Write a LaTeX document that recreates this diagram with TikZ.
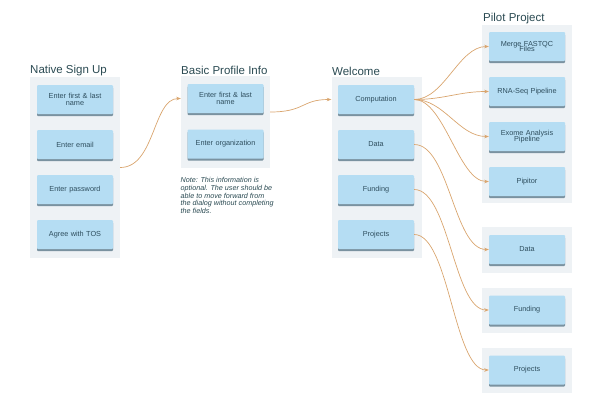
\documentclass[tikz,border=0pt]{standalone}
\usepackage{fontspec}
\setmainfont{Liberation Sans}
\usetikzlibrary{arrows.meta,calc}
\definecolor{panelbg}{HTML}{EEF2F5}
\definecolor{btnfill}{HTML}{B5DDF3}
\definecolor{btnshadow}{HTML}{7A92A0}
\definecolor{btntext}{HTML}{2E4E5E}
\definecolor{titletext}{HTML}{2A4A52}
\definecolor{conncol}{HTML}{D9A56E}
\tikzset{
  panel/.style={fill=panelbg, draw=none, minimum width=90pt, inner sep=0pt},
  btn/.style={fill=btnfill, draw=none, minimum width=76pt, minimum height=29pt,
    rounded corners=1pt, text=btntext, font=\fontsize{7.3}{7.3}\selectfont,
    align=center, text width=62pt, inner sep=0pt,
    preaction={fill=btnshadow, rounded corners=1pt, transform canvas={yshift=-2.2pt}}},
  ttl/.style={anchor=south west, inner sep=0pt, text=titletext, font=\fontsize{11.5}{11.5}\selectfont},
  conn/.style={draw=conncol, line width=0.7pt, -{Stealth[length=4.5pt,width=3.5pt]}},
}
\begin{document}
\begin{tikzpicture}[x=1pt,y=-1pt]
\useasboundingbox (0,0) rectangle (600,413);
% panels
\node[panel, minimum height=181pt] (nsP) at (75,167.5) {};
\node[panel, minimum width=89pt, minimum height=92pt] (bpP) at (225.5,122) {};
\node[panel, minimum height=181pt] (wP) at (376.5,167.5) {};
\node[panel, minimum height=178pt] (ppP) at (527,114) {};
\node[panel, minimum height=46pt] (dP) at (527,250) {};
\node[panel, minimum height=45pt] (fP) at (527,310.5) {};
\node[panel, minimum height=45pt] (prP) at (527,370.5) {};
% titles
\node[ttl] (nsT) at (30,76) {Native Sign Up};
\node[ttl] (bpT) at (181,75) {Basic Profile Info};
\node[ttl] (wT) at (332,76) {Welcome};
\node[ttl] (ppT) at (483,24) {Pilot Project};
% native sign up
\node[btn] (ns1) at (75,99.5) {Enter first \& last\\[-0.5pt]name};
\node[btn] (ns2) at (75,144.5) {Enter email};
\node[btn] (ns3) at (75,189.5) {Enter password};
\node[btn] (ns4) at (75,234.5) {Agree with TOS};
% basic profile
\node[btn] (bp1) at (225.5,98.5) {Enter first \& last\\[-0.5pt]name};
\node[btn] (bp2) at (225.5,144) {Enter organization};
\node[anchor=north west, inner sep=0pt, text=titletext, align=left,
  font=\fontsize{7.2}{7.6}\selectfont\itshape] (note) at (180.5,177.5)
  {Note: This information is\\optional. The user should be\\able to move forward from\\the dialog without completing\\the fields.};
% welcome
\node[btn] (w1) at (376,99.5) {Computation};
\node[btn] (w2) at (376,144.5) {Data};
\node[btn] (w3) at (376,189.5) {Funding};
\node[btn] (w4) at (376,234.5) {Projects};
% pilot project
\node[btn] (pp1) at (527,46.5) {Merge FASTQC\\[-1.5pt]Files};
\node[btn] (pp2) at (527,91.5) {RNA-Seq Pipeline};
\node[btn] (pp3) at (527,136.5) {Exome Analysis\\[-1.5pt]Pipeline};
\node[btn] (pp4) at (527,181.5) {Pipitor};
% bottom
\node[btn] (d1) at (527,249.5) {Data};
\node[btn] (f1) at (527,310) {Funding};
\node[btn] (pr1) at (527,370) {Projects};
% connectors
\draw[conn] (nsP.east) .. controls +(35,0) and +(-28,0) .. (bpP.west |- bp1);
\draw[conn] ($(bpP.east)+(0,-10)$) .. controls +(35,0) and +(-30,0) .. (wP.west |- w1);
\draw[conn] (w1.east) .. controls +(30,0) and +(-30,0) .. (pp1.west);
\draw[conn] (w1.east) .. controls +(30,0) and +(-30,0) .. (pp2.west);
\draw[conn] (w1.east) .. controls +(30,0) and +(-30,0) .. (pp3.west);
\draw[conn] (w1.east) .. controls +(30,0) and +(-30,0) .. (pp4.west);
\draw[conn] (w2.east) .. controls +(35,0) and +(-35,0) .. (d1.west);
\draw[conn] (w3.east) .. controls +(35,0) and +(-35,0) .. (f1.west);
\draw[conn] (w4.east) .. controls +(35,0) and +(-35,0) .. (pr1.west);
\end{tikzpicture}
\end{document}
